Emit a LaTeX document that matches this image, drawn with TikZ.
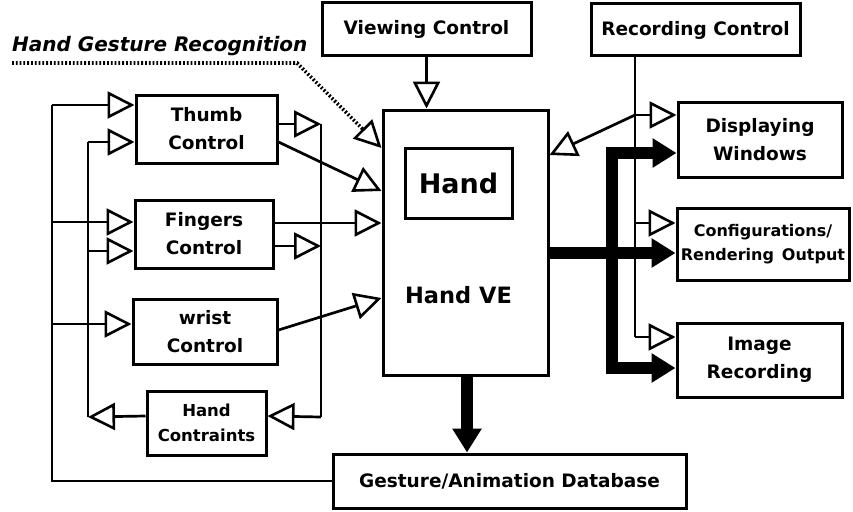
\documentclass[tikz,border=0pt]{standalone}
\usepackage{fontspec}
\setmainfont{DejaVu Sans}
\usetikzlibrary{arrows.meta}

\begin{document}
\begin{tikzpicture}[x=1pt,y=-1pt,
  box/.style={draw,line width=3pt,inner sep=0pt,align=center,
    font=\fontsize{18.5}{28}\selectfont\bfseries},
  smalltext/.style={font=\fontsize{16.5}{25}\selectfont\bfseries},
  wire/.style={line width=2.7pt},
  conn/.style={wire,-{Triangle[open,length=27pt,width=27pt,line width=2.6pt]}},
  dotline/.style={line width=3.6pt,dash pattern=on 1.8pt off 2pt,
    -{Triangle[open,length=27pt,width=27pt,line width=2.6pt]}},
  fat/.style={line width=12pt,line join=miter,-{Triangle[length=24pt,width=28pt]}},
  fatboth/.style={line width=12pt,line join=miter,
    {Triangle[length=24pt,width=28pt]}-{Triangle[length=24pt,width=28pt]}},
]
\fill[white] (0,0) rectangle (853,511);
\useasboundingbox (0,0) rectangle (853,511);

% control blocks on the left
\node[box,minimum width=141pt,minimum height=68pt] (thumb) at (206.5,129) {Thumb\\Control};
\node[box,minimum width=138pt,minimum height=68pt] (fingers) at (204,234) {Fingers\\Control};
\node[box,minimum width=144pt,minimum height=65pt] (wrist) at (205,331.5) {wrist\\Control};
\node[box,smalltext,minimum width=119pt,minimum height=64pt] (cons) at (206.5,423) {Hand\\Contraints};

% central environment
\node[box,minimum width=165pt,minimum height=265pt] (hve) at (465.5,242.5) {};
\node[box,minimum width=107pt,minimum height=70pt,
  font=\fontsize{27}{30}\selectfont\bfseries] (handbox) at (458.5,183) {Hand};
\node[anchor=base,font=\fontsize{22.5}{26}\selectfont\bfseries] (velabel) at (458.5,303) {Hand VE};

% top controls
\node[box,minimum width=209pt,minimum height=53pt] (view) at (426.5,29.5) {Viewing Control};
\node[box,minimum width=209pt,minimum height=52pt] (rec) at (695.5,30) {Recording Control};

% outputs
\node[box,minimum width=164pt,minimum height=75pt] (disp) at (760,139.5) {Displaying\\Windows};
\node[box,minimum width=172pt,minimum height=72pt,font=\fontsize{16}{24}\selectfont\bfseries] (conf) at (763,244) {Configurations/\\Rendering\hspace{0.5em}Output};
\node[box,minimum width=165pt,minimum height=74pt] (img) at (759.5,360) {Image\\Recording};
\node[box,minimum width=353pt,minimum height=54pt] (db) at (509.5,481) {Gesture/Animation Database};

% title of the recognition part
\node[anchor=base west,inner sep=0pt,font=\fontsize{20}{23}\selectfont\bfseries\itshape] (title) at (12,52) {Hand Gesture Recognition};

% bus junctions
\coordinate (ob1) at (52,105);
\coordinate (ob2) at (52,222);
\coordinate (ob3) at (52,324);
\coordinate (ib1) at (88,142);
\coordinate (ib2) at (88,251);
\coordinate (ib3) at (88,417);
\coordinate (rb1) at (321,124);
\coordinate (rb2) at (321,246);
\coordinate (rb3) at (321,417);
\coordinate (cb1) at (635,115);
\coordinate (cb2) at (635,223);
\coordinate (cb3) at (635,337);
\coordinate (fb2) at (612,368);
\coordinate (dot0) at (12,63);
\coordinate (dot1) at (297,63);

% outer feedback bus from the database
\draw[wire] (db.west) -| (ob1);
\draw[conn] (ob1) -- ([yshift=24pt]thumb.west);
\draw[conn] (ob2) -- ([yshift=12pt]fingers.west);
\draw[conn] (ob3) -- ([yshift=7.5pt]wrist.west);

% constraint bus
\draw[conn] ([yshift=7pt]cons.west) -- (ib3);
\draw[wire] (ib3) -- (ib1);
\draw[conn] (ib1) -- ([yshift=-13pt]thumb.west);
\draw[conn] (ib2) -- ([yshift=-17pt]fingers.west);

\draw[conn] ([yshift=5pt]thumb.east) -- (rb1);
\draw[conn] ([yshift=-12pt]fingers.east) -- (rb2);
\draw[wire] (rb1) -- (rb3);
\draw[conn] (rb3) -- ([yshift=7pt]cons.east);

% controls into the environment
\draw[conn] ([yshift=-13pt]thumb.east) -- ([yshift=51.5pt]hve.west);
\draw[conn] ([yshift=11pt]fingers.east) -- ([yshift=19.5pt]hve.west);
\draw[conn] ([yshift=1.5pt]wrist.east) -- ([yshift=-55.5pt]hve.west);
\draw[dotline] (dot0) -- (dot1) -- ([yshift=94.5pt]hve.west);
\draw[conn] (view.south) -- (view.south |- hve.north);

% recording control bus
\draw[wire] ([xshift=-60.5pt]rec.south) -- (cb3);
\draw[conn] (cb1) -- ([yshift=24.5pt]disp.west);
\draw[conn] (cb2) -- ([yshift=21pt]conf.west);
\draw[conn] (cb3) -- ([yshift=23pt]img.west);
\draw[conn] (cb1) -- ([yshift=87.5pt]hve.east);

% data flow
\draw[fat] ([yshift=-10.5pt]hve.east) -- ([yshift=-9pt]conf.west);
\draw[fatboth] ([yshift=-13.5pt]disp.west) -| (fb2) -- ([yshift=-8pt]img.west);
\draw[fat] ([xshift=1.5pt]hve.south) -- ([xshift=1.5pt]hve.south |- db.north);
\end{tikzpicture}
\end{document}
